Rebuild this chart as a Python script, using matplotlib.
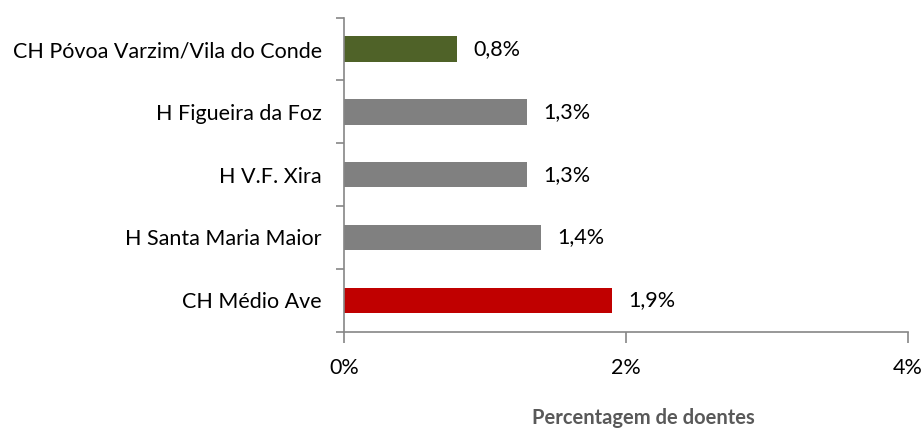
import matplotlib.pyplot as plt
from matplotlib.ticker import FixedLocator

# dados (de cima para baixo)
hospitais = ['CH Póvoa Varzim/Vila do Conde', 'H Figueira da Foz', 'H V.F. Xira',
             'H Santa Maria Maior', 'CH Médio Ave']
valores = [0.8, 1.3, 1.3, 1.4, 1.9]
rotulos = ['0,8%', '1,3%', '1,3%', '1,4%', '1,9%']
cores = ['#4F6228', '#808080', '#808080', '#808080', '#C00000']
xticks = [0, 2, 4]
xlabels = ['0%', '2%', '4%']

plt.rcParams['font.family'] = ['Lato', 'DejaVu Sans']
fs = 15.5

fig = plt.figure(figsize=(9.24, 4.38), dpi=100)
ax = fig.add_axes([344/924, 1-331.7/438, (908-344)/924, (331.7-17.6)/438])

n = len(hospitais)
ys = list(range(n-1, -1, -1))
ax.barh(ys, valores, height=0.405, color=cores)

for y, v, r in zip(ys, valores, rotulos):
  ax.text(v + 0.115, y, r, va='center', ha='left', fontsize=fs, color='#000000')

ax.set_xlim(0, 4)
ax.set_ylim(-0.5, n-0.5)

# rótulos das categorias sem marca; marcas entre categorias
ax.set_yticks(ys)
ax.set_yticklabels(hospitais, fontsize=fs)
ax.tick_params(axis='y', length=0, pad=16)
ax.yaxis.set_minor_locator(FixedLocator([i - 0.5 for i in range(n+1)]))
ax.tick_params(axis='y', which='minor', length=6, color='#868686', width=1.2)

ax.set_xticks(xticks)
ax.set_xticklabels(xlabels, fontsize=fs)
ax.tick_params(axis='x', length=8, color='#868686', width=1.2, pad=11)

for s in ['top', 'right']:
  ax.spines[s].set_visible(False)
for s in ['left', 'bottom']:
  ax.spines[s].set_color('#868686')
  ax.spines[s].set_linewidth(1.2)

fig.text(643/924, 1-418/438, 'Percentagem de doentes', ha='center', va='center',
         fontsize=14.5, fontweight='bold', color='#595959')

fig.savefig('out.png', dpi=100)
